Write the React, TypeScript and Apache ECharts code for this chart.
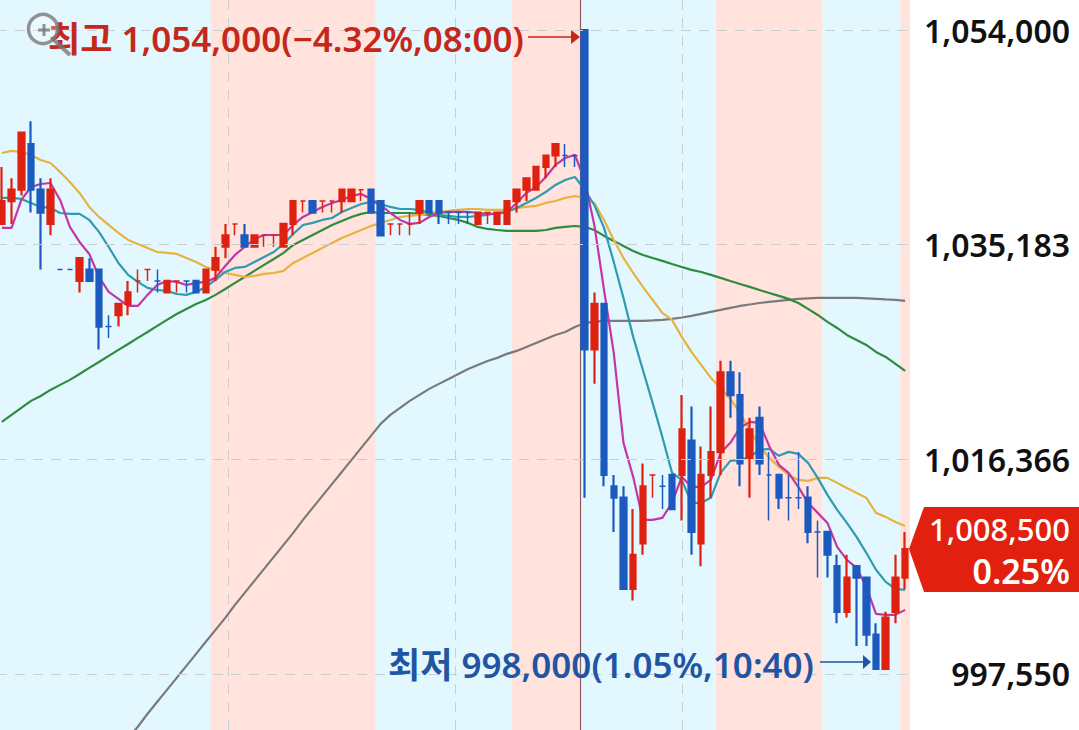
import React, { useEffect, useRef } from "react";
import * as echarts from "echarts";

const opens = [
  1037,1039,1040,1044,1040,1037,1033,1033,1032,1033,
  1033,1028,1029,1030,1032,1033,1032,1031,1032,1032,
  1032,1031,1033,1035,1037,1036,1035,1036,1036,1035,
  1037,1039,1039,1039,1039,1039,1039,1040,1040,1039,
  1037,1037,1037,1038,1039,1039,1038,1038,1038,1037,
  1038,1037,1037,1039,1040,1040,1042,1043,1043,1043,
  1054,1026,1030,1014,1013,1005,1009,1015,1014,1015,
  1015,1018,1009,1015,1017,1024,1022,1016.5,1020,1015,
  1015,1013,1013,1013,1010,1010,1007,1003,1007,1006,
  1001,998,1003,1006,
];
const closes = [
  1039,1040,1045,1040,1038,1040,1033,1033,1034,1032,
  1028,1028,1030,1031,1032,1033,1032,1032,1032,1032,
  1031,1033,1034,1036,1037,1035,1036,1036,1036,1037,
  1039,1039,1038,1039,1039,1040,1040,1040,1038,1036,
  1037,1037,1037,1039,1038,1038,1038,1038,1038,1038,
  1038,1038,1039,1040,1041,1042,1043,1044,1043,1043,
  1026,1030,1015,1013,1005,1008,1014,1015,1014,1012,
  1019,1010,1015,1017,1024,1022,1016,1019,1016,1015,
  1013,1013,1013,1010,1010,1008,1003,1006,1006,1001,
  998,1002.5,1006,1008.5,
];
const lows = [
  1037,1037,1039.5,1038,1033,1036,1033,1033,1031,1032,
  1026,1027,1028,1029,1031,1032,1031,1031,1031,1031,
  1031,1031,1032,1034,1036,1035,1035,1035,1035,1035,
  1036,1038,1038,1038,1038,1038,1039,1039,1038,1036,
  1036,1036,1036,1037,1038,1037,1037,1037,1037,1037,
  1037,1037,1037,1038,1039,1040,1041,1042,1042,1042,
  1013,1023,1014,1010,1005,1004,1008,1013,1012,1012,
  1011,1008,1007,1013,1015,1020,1014,1013,1015,1011,
  1012,1011,1012,1009,1006,1006,1002,1002.5,1000,1000,
  998,998,1002,1005,
];
const highs = [
  1042,1041,1045,1046,1041,1041,1033,1033,1034,1034,
  1033,1029,1030,1032,1033,1033,1033,1032,1032,1032,
  1032,1033,1035,1037,1037,1037,1036,1036,1036,1037,
  1039,1039,1039,1039,1039,1040,1040,1040,1040,1039,
  1037,1037,1038,1039,1039,1039,1038,1038,1038,1038,
  1038,1038,1039,1040,1041,1042,1043,1044,1044,1043,
  1054,1031,1030,1015,1014,1012,1016,1015,1015,1015,
  1022,1021,1017.5,1021,1025,1025,1024,1020,1021,1017,
  1015,1015,1017,1014,1011,1010,1008,1008,1007,1006,
  1002,1003,1008,1010,
];
// Flat candles (open = close) that are coloured as falling
const dojiDown = [6,7,11,16,19,46,47,48,58,59,68,79,81,82,84];

const ma5 = [
  1036.65,1036.65,1039.10,1040.24,1040.50,1040.59,1039.10,1036.74,1035.42,1034.37,
  1032.35,1031.04,1030.43,1029.81,1029.81,1030.78,1031.65,1032.00,1031.92,1031.65,
  1031.83,1031.92,1032.27,1033.32,1034.28,1034.98,1035.68,1036.03,1036.03,1036.03,
  1036.91,1037.61,1038.05,1038.49,1038.84,1039.10,1039.45,1039.63,1039.19,1038.66,
  1037.96,1037.35,1037.00,1037.09,1037.61,1037.96,1038.05,1038.05,1038.05,1037.96,
  1037.88,1037.88,1038.05,1038.84,1039.72,1040.24,1041.12,1042.17,1042.78,1043.05,
  1040.85,1036.91,1031.21,1025.69,1017.81,1014.83,1011.06,1011.06,1011.23,1012.55,
  1014.83,1013.95,1013.95,1014.56,1016.93,1017.81,1019.12,1019.65,1019.56,1017.54,
  1015.88,1015.18,1013.95,1012.55,1011.67,1010.79,1008.69,1007.55,1006.85,1005.19,
  1002.82,1002.73,1002.73,1003.17,
];
const ma10 = [
  1039.28,1039.28,1039.19,1038.84,1038.49,1038.40,1037.96,1037.88,1037.88,1037.35,
  1036.30,1034.98,1033.58,1032.53,1031.92,1031.39,1031.21,1031.13,1030.86,1030.78,
  1031.04,1031.48,1032.09,1032.79,1033.14,1033.23,1033.67,1034.11,1034.54,1035.25,
  1036.12,1036.91,1037.09,1037.35,1037.52,1038.05,1038.40,1038.75,1038.93,1038.75,
  1038.49,1038.31,1038.31,1038.23,1037.96,1037.79,1037.70,1037.61,1037.61,1037.70,
  1037.79,1037.96,1038.05,1038.40,1038.84,1039.28,1039.80,1040.42,1040.85,1041.12,
  1039.98,1038.66,1036.65,1033.67,1030.51,1027.10,1024.20,1021.31,1018.33,1015.18,
  1014.56,1012.55,1012.55,1012.99,1015.18,1016.23,1016.32,1016.58,1017.19,1017.28,
  1016.67,1017.02,1016.84,1016.05,1014.74,1013.25,1011.93,1010.79,1009.57,1008.17,
  1006.68,1005.62,1005.01,1004.92,
];
const ma20 = [
  1043.22,1043.40,1043.31,1043.05,1042.61,1042.34,1041.56,1040.68,1039.72,1038.49,
  1037.61,1036.91,1036.21,1035.60,1035.25,1034.90,1034.54,1034.46,1034.37,1034.02,
  1033.67,1033.23,1032.97,1032.70,1032.53,1032.35,1032.44,1032.62,1032.70,1032.88,
  1033.58,1034.02,1034.46,1034.90,1035.33,1035.77,1036.12,1036.47,1036.82,1037.09,
  1037.35,1037.61,1037.70,1037.79,1037.96,1038.05,1038.14,1038.23,1038.31,1038.31,
  1038.23,1038.23,1038.23,1038.40,1038.49,1038.58,1038.84,1039.01,1039.28,1039.45,
  1039.28,1038.84,1037.35,1035.60,1034.02,1032.70,1031.48,1030.34,1029.20,1028.59,
  1027.10,1025.78,1024.64,1023.50,1022.63,1021.66,1020.43,1018.94,1017.54,1016.49,
  1015.70,1015.00,1014.56,1014.48,1014.74,1014.74,1014.30,1013.86,1013.42,1012.99,
  1011.67,1011.32,1010.88,1010.53,
];
const ma60 = [
  1019.65,1020.26,1020.87,1021.49,1021.92,1022.45,1022.89,1023.33,1023.85,1024.38,
  1024.90,1025.43,1025.96,1026.48,1027.01,1027.53,1028.06,1028.59,1029.11,1029.55,
  1029.99,1030.34,1030.78,1031.30,1031.83,1032.35,1032.88,1033.41,1033.93,1034.46,
  1035.16,1035.60,1036.03,1036.47,1036.91,1037.26,1037.61,1037.88,1038.05,1037.96,
  1037.96,1037.96,1037.96,1037.88,1037.79,1037.70,1037.52,1037.35,1037.09,1036.74,
  1036.56,1036.47,1036.39,1036.39,1036.39,1036.39,1036.47,1036.65,1036.74,1036.82,
  1036.74,1036.47,1035.95,1035.51,1035.07,1034.63,1034.28,1034.02,1033.76,1033.49,
  1033.23,1032.97,1032.79,1032.53,1032.27,1032.00,1031.74,1031.48,1031.21,1030.95,
  1030.69,1030.43,1030.07,1029.55,1029.02,1028.41,1027.88,1027.27,1026.83,1026.39,
  1025.78,1025.34,1024.73,1024.12,
];
const ma120 = [
  null,null,null,null,null,null,null,null,null,null,
  null,null,null,991.95,992.92,994.06,995.11,996.16,997.21,998.26,
  999.31,1000.37,1001.42,1002.47,1003.61,1004.66,1005.71,1006.76,1007.81,1008.87,
  1009.92,1011.06,1012.11,1013.16,1014.21,1015.26,1016.32,1017.37,1018.42,1019.47,
  1020.26,1020.87,1021.49,1022.01,1022.54,1022.98,1023.41,1023.85,1024.29,1024.64,
  1024.99,1025.26,1025.61,1025.87,1026.22,1026.57,1026.92,1027.27,1027.53,1027.97,
  1028.32,1028.41,1028.50,1028.50,1028.50,1028.50,1028.50,1028.54,1028.59,1028.67,
  1028.80,1028.94,1029.11,1029.29,1029.46,1029.64,1029.81,1029.94,1030.07,1030.16,
  1030.25,1030.34,1030.43,1030.47,1030.51,1030.51,1030.51,1030.51,1030.51,1030.47,
  1030.43,1030.38,1030.34,1030.25,
];

// Shaded sessions: first candle, last candle, 0 = blue, 1 = pink
const bandStarts = [0, 22, 39, 53, 60, 74, 85, 93];
const bandEnds = [21, 38, 52, 59, 73, 84, 92, 93];
const bandKinds = [0, 1, 0, 1, 0, 1, 0, 1];

const yTicks = [997550, 1016366, 1035183, 1054000];
const categories = opens.map((_, i) => String(i));

const RED = "#DE2110";
const BLUE = "#1D5ABF";
const TEXT_RED = "#C4281A";
const TEXT_BLUE = "#1F55A3";
const KO = '"Noto Sans", "Noto Sans CJK KR", sans-serif';
const won = (a: (number | null)[]) => a.map((v) => (v == null ? null : v * 1000));

const maLine = (name: string, data: (number | null)[], color: string, width = 2.2) => ({
  name,
  type: "line",
  data: won(data),
  showSymbol: false,
  symbol: "none",
  smooth: false,
  connectNulls: false,
  lineStyle: { color, width },
  z: 3,
  silent: true,
});

export default function App() {
  const ref = useRef<HTMLDivElement>(null);
  useEffect(() => {
    if (!ref.current) return;
    const chart = echarts.init(ref.current, null, { renderer: "svg" });
    const candleData = opens.map((o, i) => {
      const c = closes[i];
      const flat = o === c;
      const col = c > o ? RED : c < o ? BLUE : dojiDown.includes(i) ? BLUE : RED;
      return {
        value: [o * 1000, c * 1000, lows[i] * 1000, highs[i] * 1000],
        itemStyle: {
          color: col,
          color0: col,
          borderColor: col,
          borderColor0: col,
          borderWidth: flat ? 1.5 : 2.2,
        },
      };
    });
    chart.setOption({
      animation: false,
      backgroundColor: "#FFFFFF",
      grid: { left: 0, top: 0, width: 913, height: 730, containLabel: false },
      xAxis: [
        {
          type: "category",
          data: categories,
          boundaryGap: true,
          axisLine: { show: false },
          axisTick: { show: false },
          axisLabel: { show: false },
          splitLine: { show: false },
        },
        { type: "value", min: 0, max: 913, show: false, splitLine: { show: false } },
      ],
      yAxis: {
        type: "value",
        position: "right",
        min: 992638,
        max: 1056630,
        axisLine: { show: false },
        axisTick: { show: false, customValues: yTicks },
        splitLine: {
          show: true,
          lineStyle: { color: "#C9CED3", width: 1, type: [10, 8] },
        },
        axisLabel: {
          show: true,
          customValues: yTicks,
          formatter: (v: number) => Math.round(v).toLocaleString("en-US"),
          color: "#111111",
          fontFamily: KO,
          fontSize: 32,
          fontWeight: 600,
          align: "right",
          margin: 160,
        },
        z: 5,
      },
      series: [
        {
          type: "custom",
          silent: true,
          z: 0,
          clip: false,
          data: bandStarts.map((s, i) => [s, bandEnds[i], bandKinds[i]]),
          encode: { x: 0 },
          renderItem: (params: any, api: any) => {
            const w = api.size([1, 0])[0];
            const x0 = api.coord([api.value(0), 1000000])[0] - w / 2;
            const x1 = api.coord([api.value(1), 1000000])[0] + w / 2;
            const cs = params.coordSys;
            return {
              type: "rect",
              shape: { x: x0, y: cs.y, width: x1 - x0, height: cs.height },
              style: { fill: api.value(2) === 1 ? "#FFE3DC" : "#E3F7FF" },
            };
          },
        },
        {
          type: "line",
          xAxisIndex: 1,
          data: [],
          silent: true,
          z: 1,
          markLine: {
            silent: true,
            z: 1,
            symbol: ["none", "none"],
            label: { show: false },
            animation: false,
            lineStyle: { color: "#C9CED3", width: 1, type: [10, 8] },
            data: [
              { xAxis: 231 },
              { xAxis: 458 },
              { xAxis: 685 },
              { xAxis: 583.5, lineStyle: { color: "#8C5A66", width: 1.2, type: "solid" } },
            ],
          },
        },
        maLine("MA120", ma120, "#7A7A7A"),
        maLine("MA60", ma60, "#2F8B3F"),
        maLine("MA20", ma20, "#E7B340"),
        maLine("MA10", ma10, "#2F9BAF"),
        maLine("MA5", ma5, "#C436A6"),
        {
          name: "Price",
          type: "candlestick",
          data: candleData,
          barWidth: 6,
          z: 4,
          silent: true,
        },
      ],
      graphic: [
        {
          type: "group",
          x: 3,
          y: 0,
          children: [
            // High annotation
            {
              type: "text",
              z: 20,
              style: {
                x: 48,
                y: 38,
                text: "최고 1,054,000(−4.32%,08:00)",
                fill: TEXT_RED,
                font: `600 35px ${KO}`,
                textVerticalAlign: "middle",
              },
            },
            {
              type: "line",
              z: 20,
              shape: { x1: 528, y1: 37, x2: 572, y2: 37 },
              style: { stroke: TEXT_RED, lineWidth: 1.5 },
            },
            {
              type: "polygon",
              z: 20,
              shape: { points: [[571, 30], [580, 37], [571, 44]] },
              style: { fill: TEXT_RED },
            },
            // Low annotation
            {
              type: "text",
              z: 20,
              style: {
                x: 388,
                y: 664,
                text: "최저 998,000(1.05%,10:40)",
                fill: TEXT_BLUE,
                font: `600 35px ${KO}`,
                textVerticalAlign: "middle",
              },
            },
            {
              type: "line",
              z: 20,
              shape: { x1: 820, y1: 662, x2: 864, y2: 662 },
              style: { stroke: TEXT_BLUE, lineWidth: 1.5 },
            },
            {
              type: "polygon",
              z: 20,
              shape: { points: [[863, 655], [871, 662], [863, 669]] },
              style: { fill: TEXT_BLUE },
            },
            // Last price tag
            {
              type: "polygon",
              z: 20,
              shape: { points: [[909, 549], [924, 507], [1079, 507], [1079, 592], [924, 592]] },
              style: { fill: "#E2200F" },
            },
            {
              type: "text",
              z: 21,
              style: {
                x: 1070,
                y: 529,
                text: "1,008,500",
                fill: "#FFFFFF",
                font: `500 31px ${KO}`,
                textAlign: "right",
                textVerticalAlign: "middle",
              },
            },
            {
              type: "text",
              z: 21,
              style: {
                x: 1070,
                y: 571,
                text: "0.25%",
                fill: "#FFFFFF",
                font: `600 34px ${KO}`,
                textAlign: "right",
                textVerticalAlign: "middle",
              },
            },
            // Zoom icon
            {
              type: "circle",
              z: 30,
              shape: { cx: 43, cy: 29, r: 14.5 },
              style: { stroke: "rgba(120,120,120,0.8)", fill: "rgba(255,255,255,0.25)", lineWidth: 3.5 },
            },
            {
              type: "line",
              z: 30,
              shape: { x1: 54, y1: 40, x2: 70, y2: 55 },
              style: { stroke: "rgba(120,120,120,0.8)", lineWidth: 4 },
            },
            {
              type: "line",
              z: 30,
              shape: { x1: 38, y1: 30, x2: 50, y2: 30 },
              style: { stroke: "rgba(120,120,120,0.8)", lineWidth: 3 },
            },
            {
              type: "line",
              z: 30,
              shape: { x1: 44, y1: 24, x2: 44, y2: 36 },
              style: { stroke: "rgba(120,120,120,0.8)", lineWidth: 3 },
            },
          ],
        },
      ],
    });
    return () => chart.dispose();
  }, []);
  return (
    <div
      ref={ref}
      style={{ position: "fixed", left: -3, top: 0, width: 1082, height: 730 }}
    />
  );
}
